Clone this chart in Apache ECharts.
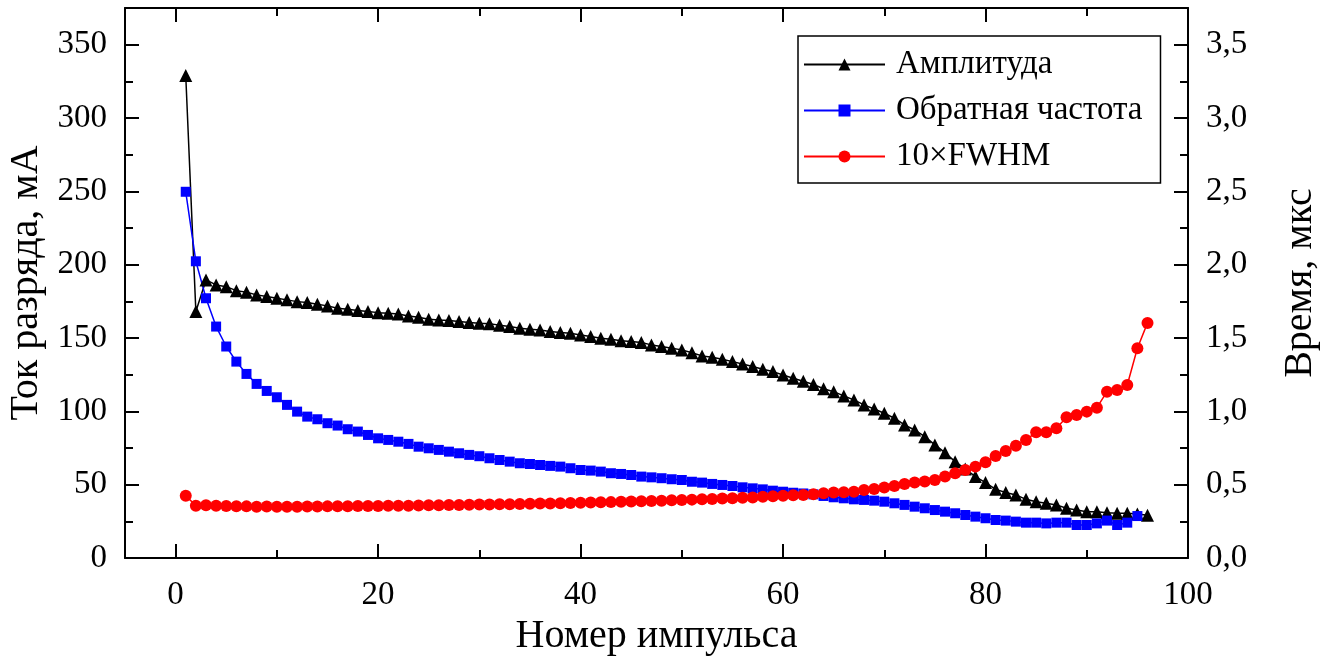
<!DOCTYPE html>
<html>
<head>
<meta charset="utf-8">
<script src="https://cdn.jsdelivr.net/npm/echarts@6/dist/echarts.min.js"></script>
<style>
html,body{margin:0;padding:0;background:#fff;}
#c{width:1329px;height:657px;}
</style>
</head>
<body>
<div id="c"></div>
<script>
// ---- data ----
const seriesNames = ['Амплитуда', 'Обратная частота', '10×FWHM'];
const amplitude = [329,168,189.6,186.2,185,182.3,181.2,179.4,178.3,177.1,
  176,174.8,174.2,173,171.9,170.3,169.6,168.7,168,167.3,
  166.9,166.4,165,164.2,162.8,162.3,161.9,161.2,160.5,160.1,
  159.8,158.7,157.8,156.7,156,155.5,154.4,153.7,153.3,152.1,
  151,149.8,149.2,148.2,147.6,146.9,145.3,144.2,143,141.9,
  140,137.8,136.9,135.5,133.9,132.3,130.5,128.7,127.1,124.8,
  122.6,120.5,118.3,115.4,113.4,110.5,107.8,104.4,101.6,98.7,
  95.3,90.7,87.3,82.7,77.1,71.8,65.7,60.7,55.5,51.4,
  46.8,44.6,43,40,38.4,37.3,36.2,33.9,32.7,31.6,
  31.6,30.9,30.5,30.5,30,29.1];
const inverseFreq = [249.7,202.3,177.1,157.8,144.2,133.9,125.5,118.7,113.9,109.6,
  104.4,99.8,96.4,94.6,91.9,90.3,87.8,86.2,83.9,81.6,
  80.5,79.3,77.8,75.9,74.8,73.7,72.5,71.4,70.3,69.4,
  68,66.8,65.7,64.6,64.1,63.4,62.8,62.3,61.2,60,
  59.6,58.9,57.8,57.3,56.6,55.5,55,54.4,53.7,53.2,
  52,51.4,50.5,49.8,49.1,48.2,47.5,46.8,45.9,45.2,
  44.5,44,43.4,42.3,41.4,40.7,40,39.6,39.1,38.4,
  37.3,36.2,35,33.9,32.7,31.6,30.5,29.3,28.2,27.1,
  25.9,25.5,24.8,24.1,24.1,23.6,24.1,24.1,22.5,22.5,
  23.6,25.5,22.5,24.1,28.6];
const fwhm10 = [0.425,0.357,0.36,0.356,0.355,0.353,0.352,0.35,0.351,0.35,
  0.35,0.35,0.351,0.351,0.352,0.353,0.353,0.354,0.354,0.355,
  0.356,0.356,0.357,0.358,0.359,0.36,0.361,0.362,0.363,0.364,
  0.365,0.366,0.367,0.368,0.37,0.371,0.372,0.374,0.375,0.377,
  0.378,0.38,0.381,0.383,0.385,0.387,0.389,0.391,0.393,0.396,
  0.398,0.4,0.402,0.405,0.407,0.41,0.413,0.417,0.421,0.425,
  0.428,0.43,0.434,0.441,0.446,0.448,0.452,0.464,0.471,0.48,
  0.491,0.505,0.514,0.521,0.532,0.555,0.578,0.6,0.623,0.653,
  0.696,0.73,0.766,0.805,0.857,0.857,0.885,0.96,0.975,0.998,
  1.025,1.134,1.146,1.18,1.43,1.603];
const xLabels = [0,20,40,60,80,100];
const xMinorTicks = [10,30,50,70,90];
const yLeftLabels = [0,50,100,150,200,250,300,350];
const yLeftMinor = [25,75,125,175,225,275,325];
const yRightLabels = [0,0.5,1,1.5,2,2.5,3,3.5];
const yRightMinor = [0.25,0.75,1.25,1.75,2.25,2.75,3.25];

// ---- chart ----
const FONT = '"Liberation Serif", "Times New Roman", serif';
const pairs = arr => arr.map((v, i) => [i + 1, v]);
const BLACK = '#000';

// axis carrying the frame line, labels and auto (nice) major ticks
function frameAxis(pos, min, max, split, labels, margin, fmt) {
  return {
    type: 'value', position: pos, min: min, max: max, splitNumber: split,
    axisLine: { show: true, onZero: false, lineStyle: { color: BLACK, width: 2 } },
    splitLine: { show: false },
    axisTick: { show: true, inside: true, length: 14, lineStyle: { color: BLACK, width: 2 } },
    axisLabel: labels ? { show: true, customValues: labels, color: BLACK, fontFamily: FONT, fontSize: 33, margin: margin, formatter: fmt } : { show: false }
  };
}
// axis carrying only inward minor ticks
function tickAxis(pos, min, max, ticks, len) {
  return {
    type: 'value', position: pos, min: min, max: max,
    axisLine: { show: false, onZero: false },
    splitLine: { show: false },
    axisTick: { show: true, inside: true, length: len, customValues: ticks, lineStyle: { color: BLACK, width: 2 } },
    axisLabel: { show: false }
  };
}

const xMain = frameAxis('bottom', -5, 100, 5, xLabels, 21, v => String(v));
xMain.name = 'Номер импульса';
xMain.nameLocation = 'middle';
xMain.nameGap = 55;
xMain.nameTextStyle = { color: BLACK, fontFamily: FONT, fontSize: 40 };

const yMain = frameAxis('left', 0, 375, 7, yLeftLabels, 18, v => String(v));
yMain.name = 'Ток разряда, мА';
yMain.nameLocation = 'middle';
yMain.nameGap = 68;
yMain.nameTextStyle = { color: BLACK, fontFamily: FONT, fontSize: 40 };

const yRight = frameAxis('right', 0, 3.75, 7, yRightLabels, 18, v => v.toFixed(1).replace('.', ','));
yRight.name = 'Время, мкс';
yRight.nameLocation = 'middle';
yRight.nameGap = 92;
yRight.nameTextStyle = { color: BLACK, fontFamily: FONT, fontSize: 40 };

const option = {
  backgroundColor: '#fff',
  animation: false,
  grid: { left: 125, right: 141, top: 8, bottom: 99, containLabel: false, outerBoundsMode: 'none' },
  xAxis: [
    xMain,
    tickAxis('bottom', -5, 100, xMinorTicks, 8),
    frameAxis('top', -5, 100, 5, null),
    tickAxis('top', -5, 100, xMinorTicks, 8)
  ],
  yAxis: [
    yMain,
    tickAxis('left', 0, 375, yLeftMinor, 8),
    yRight,
    tickAxis('right', 0, 3.75, yRightMinor, 8)
  ],
  legend: {
    orient: 'vertical', left: 798, top: 36,
    padding: [12, 18, 10, 5],
    borderColor: BLACK, borderWidth: 1.5,
    itemWidth: 81, itemHeight: 15, itemGap: 13,
    textStyle: { color: BLACK, fontFamily: FONT, fontSize: 33, lineHeight: 30, padding: [0, 0, 0, 6] },
    data: seriesNames
  },
  series: [
    { name: seriesNames[0], type: 'line', xAxisIndex: 0, yAxisIndex: 0, data: pairs(amplitude),
      symbol: 'triangle', symbolSize: 13, color: BLACK,
      lineStyle: { color: BLACK, width: 1.5 }, itemStyle: { color: BLACK } },
    { name: seriesNames[1], type: 'line', xAxisIndex: 0, yAxisIndex: 0, data: pairs(inverseFreq),
      symbol: 'rect', symbolSize: 10, color: '#0000ff',
      lineStyle: { color: '#0000ff', width: 1.5 }, itemStyle: { color: '#0000ff' } },
    { name: seriesNames[2], type: 'line', xAxisIndex: 0, yAxisIndex: 2, data: pairs(fwhm10),
      symbol: 'circle', symbolSize: 12, color: '#ff0000',
      lineStyle: { color: '#ff0000', width: 1.5 }, itemStyle: { color: '#ff0000' } }
  ]
};
const chart = echarts.init(document.getElementById('c'), null, { renderer: 'canvas' });
chart.setOption(option);
</script>
</body>
</html>
